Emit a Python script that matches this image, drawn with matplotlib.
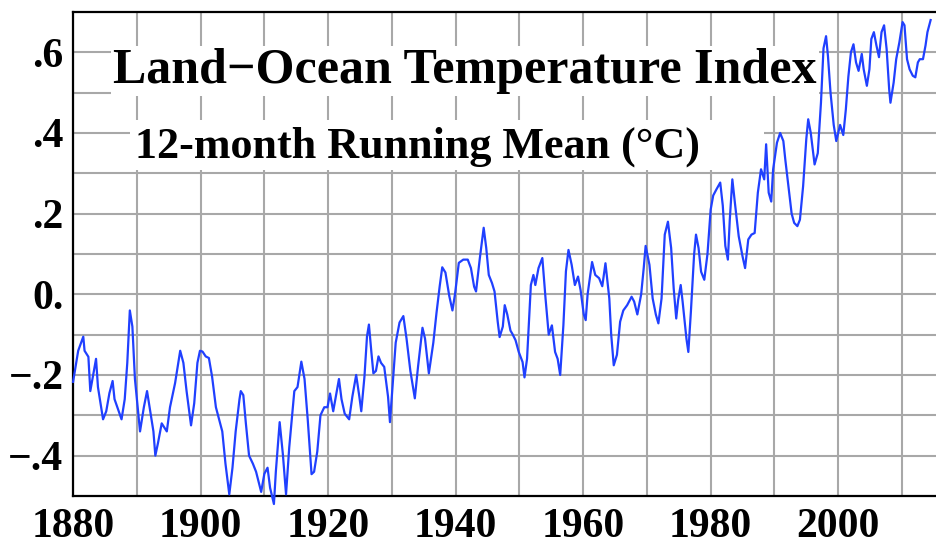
import numpy as np
import matplotlib
matplotlib.use("Agg")
import matplotlib.pyplot as plt
from matplotlib.patches import Rectangle

# 12-month running mean of the land-ocean temperature index (deg C anomaly)
years = [
    1880.0, 1880.8, 1881.6, 1881.8, 1882.4, 1882.7, 1883.1, 1883.6, 1883.9, 1884.7,
    1885.2, 1885.7, 1886.2, 1886.5, 1887.6, 1888.1, 1888.5, 1888.9, 1889.3, 1889.7,
    1890.5, 1891.1, 1891.6, 1892.0, 1892.6, 1892.9, 1893.3, 1893.9, 1894.7, 1895.2,
    1896.0, 1896.8, 1897.3, 1897.8, 1898.5, 1899.0, 1899.5, 1899.9,
    1900.3, 1900.8, 1901.3, 1901.8, 1902.4, 1902.9, 1903.4, 1903.9, 1904.5, 1905.0,
    1905.5, 1906.1, 1906.3, 1906.7, 1907.1, 1907.6, 1908.2, 1908.7, 1909.5, 1910.0,
    1910.5, 1910.9, 1911.5, 1911.8, 1912.4, 1912.9, 1913.4, 1913.9, 1914.7, 1915.2,
    1915.8, 1916.3, 1916.8, 1917.4, 1917.8, 1918.3, 1918.8, 1919.4, 1919.9,
    1920.3, 1920.8, 1921.3, 1921.7, 1922.1, 1922.6, 1923.3, 1923.8, 1924.4, 1924.9,
    1925.2, 1925.7, 1926.1, 1926.4, 1926.8, 1927.1, 1927.5, 1927.9, 1928.3, 1928.8,
    1929.4, 1929.7, 1930.1, 1930.6, 1931.2, 1931.8, 1932.3, 1932.9, 1933.6, 1934.1,
    1934.8, 1935.2, 1935.8, 1936.5, 1937.0, 1937.5, 1937.9, 1938.4, 1939.0, 1939.5,
    1939.9, 1940.5, 1941.2, 1941.9, 1942.4, 1942.9, 1943.2, 1943.8, 1944.4, 1944.8,
    1945.2, 1945.7, 1946.1, 1946.6, 1946.9, 1947.4, 1947.7, 1948.1, 1948.6, 1948.9,
    1949.4, 1949.9, 1950.5, 1950.8, 1951.2, 1951.8, 1952.2, 1952.5, 1953.0, 1953.6,
    1954.1, 1954.6, 1955.1, 1955.6, 1956.0, 1956.4, 1956.9, 1957.3, 1957.7, 1958.2,
    1958.7, 1959.2, 1959.6, 1960.1, 1960.4, 1960.7, 1961.4, 1961.9, 1962.5, 1963.0,
    1963.5, 1964.1, 1964.4, 1964.8, 1965.3, 1965.8, 1966.3, 1966.9, 1967.6, 1968.0,
    1968.5, 1969.1, 1969.5, 1969.8, 1970.4, 1970.9, 1971.4, 1971.8, 1972.3, 1972.8,
    1973.3, 1973.8, 1974.2, 1974.6, 1974.9, 1975.3, 1975.6, 1976.2, 1976.5, 1976.9,
    1977.4, 1977.7, 1978.1, 1978.5, 1979.0, 1979.5, 1980.0, 1980.4, 1980.9, 1981.5,
    1981.9, 1982.3, 1982.7, 1983.0, 1983.4, 1983.8, 1984.4, 1985.0, 1985.4, 1985.9,
    1986.4, 1986.9, 1987.4, 1987.9, 1988.4, 1988.7, 1989.1, 1989.5, 1989.8, 1990.4,
    1990.9, 1991.4, 1991.7, 1992.2, 1992.7, 1993.1, 1993.6, 1994.0, 1994.5, 1995.0,
    1995.3, 1995.7, 1996.3, 1996.8, 1997.3, 1997.7, 1998.1, 1998.4, 1998.8, 1999.3,
    1999.7, 2000.0, 2000.3, 2000.8, 2001.2, 2001.6, 2002.0, 2002.4, 2002.8, 2003.2,
    2003.7, 2004.0, 2004.5, 2004.9, 2005.2, 2005.6, 2006.0, 2006.4, 2006.8, 2007.2,
    2007.6, 2008.0, 2008.2, 2008.7, 2009.1, 2009.6, 2010.1, 2010.4, 2010.8, 2011.2,
    2011.7, 2012.1, 2012.5, 2012.8, 2013.3, 2013.7, 2014.0, 2014.5,
]
anomaly = [
    -0.217, -0.14, -0.105, -0.14, -0.155, -0.24, -0.205, -0.16, -0.23, -0.31,
    -0.29, -0.245, -0.215, -0.26, -0.31, -0.26, -0.17, -0.04, -0.08, -0.21,
    -0.34, -0.28, -0.24, -0.28, -0.34, -0.40, -0.37, -0.32, -0.34, -0.28,
    -0.22, -0.14, -0.17, -0.24, -0.325, -0.27, -0.17, -0.14,
    -0.142, -0.154, -0.158, -0.204, -0.28, -0.31, -0.34, -0.42, -0.496, -0.43,
    -0.34, -0.26, -0.24, -0.25, -0.32, -0.40, -0.42, -0.44, -0.49, -0.445,
    -0.43, -0.48, -0.52, -0.44, -0.317, -0.396, -0.496, -0.38, -0.24, -0.23,
    -0.167, -0.21, -0.31, -0.446, -0.44, -0.39, -0.30, -0.28, -0.28,
    -0.246, -0.29, -0.246, -0.21, -0.26, -0.296, -0.31, -0.254, -0.20, -0.254,
    -0.29, -0.204, -0.104, -0.075, -0.146, -0.196, -0.19, -0.154, -0.17, -0.18,
    -0.254, -0.317, -0.23, -0.12, -0.07, -0.054, -0.11, -0.19, -0.258, -0.18,
    -0.083, -0.11, -0.196, -0.12, -0.046, 0.02, 0.067, 0.054, -0.004, -0.04,
    0.0, 0.078, 0.086, 0.086, 0.065, 0.019, 0.007, 0.09, 0.165, 0.115,
    0.048, 0.028, 0.007, -0.068, -0.106, -0.08, -0.027, -0.05, -0.09, -0.098,
    -0.114, -0.143, -0.168, -0.206, -0.16, 0.023, 0.048, 0.023, 0.065, 0.09,
    -0.01, -0.10, -0.077, -0.143, -0.16, -0.20, -0.077, 0.057, 0.11, 0.073,
    0.023, 0.044, 0.01, -0.05, -0.064, 0.0, 0.08, 0.048, 0.04, 0.02,
    0.077, -0.01, -0.10, -0.176, -0.15, -0.068, -0.04, -0.027, -0.006, -0.018,
    -0.05, 0.0, 0.065, 0.12, 0.073, -0.01, -0.05, -0.072, -0.01, 0.148,
    0.18, 0.115, 0.015, -0.06, -0.014, 0.023, -0.018, -0.11, -0.143, -0.043,
    0.098, 0.148, 0.115, 0.056, 0.036, 0.10, 0.21, 0.245, 0.26, 0.277,
    0.22, 0.12, 0.086, 0.185, 0.285, 0.227, 0.144, 0.094, 0.065, 0.136,
    0.148, 0.152, 0.252, 0.31, 0.285, 0.372, 0.252, 0.23, 0.31, 0.376,
    0.40, 0.38, 0.335, 0.268, 0.20, 0.177, 0.169, 0.185, 0.268, 0.385,
    0.434, 0.40, 0.322, 0.35, 0.475, 0.61, 0.64, 0.59, 0.50, 0.42,
    0.38, 0.40, 0.42, 0.395, 0.458, 0.54, 0.60, 0.62, 0.575, 0.554,
    0.596, 0.558, 0.517, 0.558, 0.633, 0.65, 0.617, 0.588, 0.65, 0.667,
    0.608, 0.508, 0.475, 0.525, 0.583, 0.625, 0.675, 0.667, 0.583, 0.558,
    0.542, 0.538, 0.575, 0.583, 0.583, 0.617, 0.65, 0.68,
]

xticks = list(range(1880, 2011, 10))
xlabels = ["1880", "", "1900", "", "1920", "", "1940", "", "1960", "", "1980", "", "2000", ""]
yticks = [-0.4, -0.3, -0.2, -0.1, 0.0, 0.1, 0.2, 0.3, 0.4, 0.5, 0.6]
ylabels = ["\u2212.4", "", "\u2212.2", "", "0.", "", ".2", "", ".4", "", ".6"]

plt.rcParams["font.family"] = ["Liberation Serif", "DejaVu Serif"]
plt.rcParams["font.weight"] = "bold"

fig = plt.figure(figsize=(9.37, 5.45), dpi=100)
ax = fig.add_axes([0.078, 0.09, 0.922, 0.888])

ax.plot(years, anomaly, color="#2040ff", lw=1.6, zorder=5, clip_on=False)

ax.set_xlim(1880, 2015.5)
ax.set_ylim(-0.5, 0.7)
ax.set_xticks(xticks)
ax.set_xticklabels(xlabels, fontsize=30, fontweight="bold")
ax.set_yticks(yticks)
ax.set_yticklabels(ylabels, fontsize=30, fontweight="bold")
ax.tick_params(axis="both", length=0)
ax.tick_params(axis="y", pad=7)
ax.tick_params(axis="x", pad=9)

ax.set_axisbelow(True)
ax.grid(True, color="#a8a8a8", lw=1.5)

for side in ["left", "top", "bottom"]:
    ax.spines[side].set_linewidth(1.6)
    ax.spines[side].set_color("black")
ax.spines["right"].set_visible(False)

ax.text(0.0463, 0.853, "Land\u2212Ocean Temperature Index", transform=ax.transAxes,
        fontsize=36, fontweight="bold", ha="left", va="baseline", zorder=3,
        bbox=dict(facecolor="white", edgecolor="none", pad=1.5))

# white panel behind the subtitle, wider than the text itself
ax.add_patch(Rectangle((0.066, 0.674), 0.734, 0.103, transform=ax.transAxes,
                       facecolor="white", edgecolor="none", zorder=2))
ax.text(0.0718, 0.700, "12-month Running Mean (\u00b0C)", transform=ax.transAxes,
        fontsize=31.8, fontweight="bold", ha="left", va="baseline", zorder=3)

fig.savefig("out.png", dpi=100)
